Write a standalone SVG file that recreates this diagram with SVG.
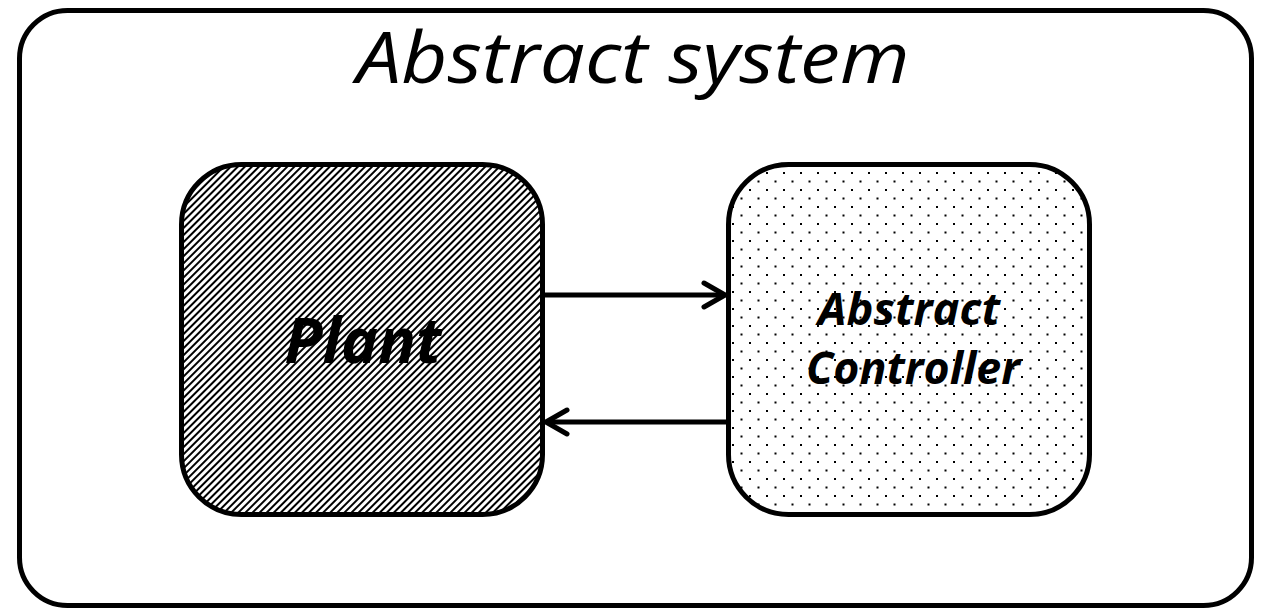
<svg xmlns="http://www.w3.org/2000/svg" width="1268" height="610" viewBox="0 0 1268 610">
  <defs>
    <!-- diagonal hatch for the plant block -->
    <pattern id="hatch" patternUnits="userSpaceOnUse" width="5" height="5" patternTransform="rotate(-45)">
      <rect width="5" height="5" fill="#fff"/>
      <rect x="0" y="0" width="5" height="2" fill="#000"/>
    </pattern>
    <!-- sparse staggered dots for the controller block -->
    <pattern id="dots" patternUnits="userSpaceOnUse" x="1" y="2" width="17" height="17">
      <rect width="17" height="17" fill="#fff"/>
      <rect x="0" y="0" width="2" height="2" fill="#000"/>
      <rect x="8.5" y="8.5" width="2" height="2" fill="#000"/>
    </pattern>
  </defs>
  <style>
    .frame { fill: #fff; stroke: #000; stroke-width: 5; }
    .block { stroke: #000; stroke-width: 5; }
    .title { font-family: "Open Sans", "Liberation Sans", sans-serif; font-style: italic; font-size: 72px; fill: #000; }
    .label { font-family: "Open Sans", "Liberation Sans", sans-serif; font-style: italic; font-weight: bold; fill: #000; }
    .wire { fill: none; stroke: #000; stroke-width: 5; stroke-linecap: round; stroke-linejoin: round; }
  </style>

  <rect width="1268" height="610" fill="#fff"/>

  <g id="abstract-system">
    <rect class="frame" x="19.5" y="10.5" width="1232" height="595" rx="48" ry="48"/>
    <text class="title" x="633" y="83" text-anchor="middle" textLength="553" lengthAdjust="spacingAndGlyphs">Abstract system</text>
  </g>

  <g id="plant">
    <rect class="block" x="181.5" y="164.5" width="361" height="350" rx="60" ry="60" fill="url(#hatch)"/>
    <text class="label" x="363" y="363" font-size="62" text-anchor="middle" textLength="157" lengthAdjust="spacingAndGlyphs">Plant</text>
  </g>

  <g id="abstract-controller">
    <rect class="block" x="728.5" y="164.5" width="361" height="350" rx="60" ry="60" fill="url(#dots)"/>
    <text class="label" x="909" y="325" font-size="44" text-anchor="middle" textLength="182" lengthAdjust="spacingAndGlyphs">Abstract</text>
    <text class="label" x="913" y="384" font-size="44" text-anchor="middle" textLength="214" lengthAdjust="spacingAndGlyphs">Controller</text>
  </g>

  <g id="connectors">
    <!-- plant output to controller -->
    <line class="wire" x1="545" y1="295" x2="724" y2="295"/>
    <polyline class="wire" points="704,283 725,295 704,307"/>
    <!-- controller command back to plant -->
    <line class="wire" x1="726" y1="422" x2="547" y2="422"/>
    <polyline class="wire" points="567,410 546,422 567,434"/>
  </g>
</svg>
